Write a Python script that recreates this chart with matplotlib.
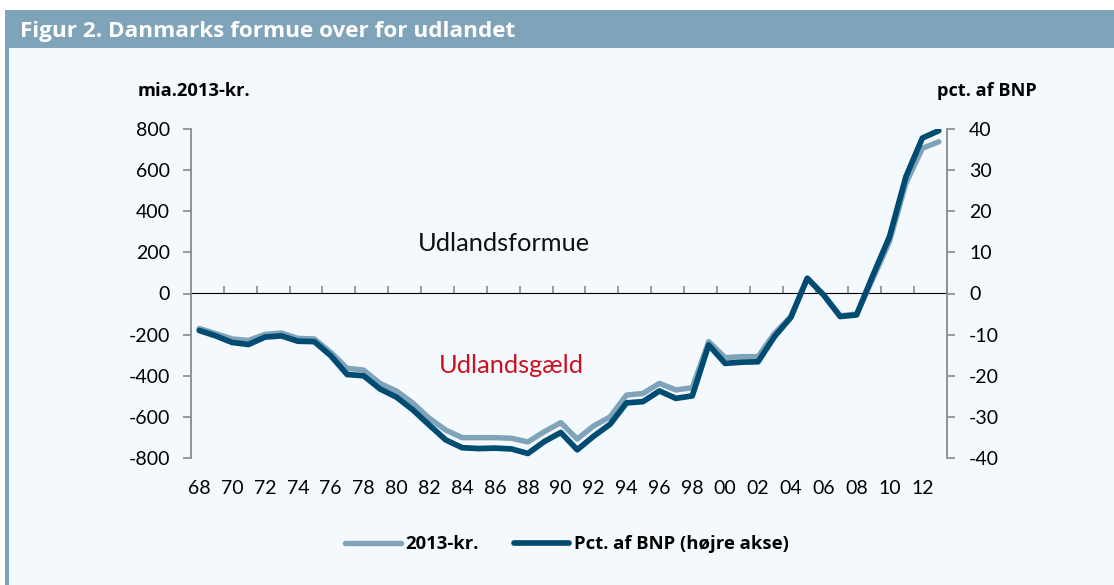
import matplotlib
matplotlib.use("Agg")
import matplotlib.pyplot as plt
from matplotlib.patches import Rectangle
import numpy as np

plt.rcParams['axes.unicode_minus'] = False
plt.rcParams['font.family'] = ['Lato', 'DejaVu Sans']

years = list(range(1968, 2014))
kr_2013 = [-170, -195, -221, -228, -199, -192, -218, -221, -286, -364,
           -372, -437, -474, -533, -607, -664, -701, -701, -701, -704,
           -722, -672, -628, -708, -644, -600, -494, -486, -437, -469,
           -458, -234, -312, -307, -307, -194, -113, 74, -7, -108,
           -100, 74, 252, 536, 706, 738]
pct_bnp = [-9.0, -10.3, -11.9, -12.4, -10.6, -10.3, -11.6, -11.7, -15.1, -19.7,
           -20.0, -23.2, -25.2, -28.3, -32.0, -35.6, -37.5, -37.7, -37.6, -37.8,
           -38.9, -36.0, -33.8, -38.0, -34.7, -31.8, -26.6, -26.3, -23.7, -25.5,
           -24.9, -12.5, -17.0, -16.7, -16.6, -10.5, -5.8, 3.7, -0.4, -5.6,
           -5.2, 4.5, 13.8, 28.4, 37.8, 39.6]
left_ticks = [-800, -600, -400, -200, 0, 200, 400, 600, 800]
right_ticks = [-40, -30, -20, -10, 0, 10, 20, 30, 40]
x_labels = [f"{y % 100:02d}" for y in years]

title = "Figur 2. Danmarks formue over for udlandet"
series_names = ["2013-kr.", "Pct. af BNP (højre akse)"]

LIGHT = "#7fa3b8"
DARK = "#004b71"
GRAY = "#8a8a8a"
BG = "#f4f9fd"

W, H = 1114, 585
fig = plt.figure(figsize=(W / 100, H / 100), dpi=100, facecolor="white")

# background panels
fig.patches.append(Rectangle((8.7 / W, 0), 1, 1 - 48 / H, transform=fig.transFigure,
                             facecolor=BG, edgecolor="none", zorder=-5))
fig.patches.append(Rectangle((5 / W, 1 - 48 / H), 1, 38 / H, transform=fig.transFigure,
                             facecolor=LIGHT, edgecolor="none", zorder=-5))
fig.patches.append(Rectangle((5 / W, 0), 3.7 / W, 1 - 48 / H, transform=fig.transFigure,
                             facecolor=LIGHT, edgecolor="none", zorder=-5))
fig.text(20 / W, 1 - 31 / H, title, color="white", fontsize=16.2, fontweight="bold",
         family=["Open Sans", "DejaVu Sans"], va="center", ha="left")

l, r, t, b = 191, 947, 129, 458
ax = fig.add_axes([l / W, 1 - b / H, (r - l) / W, (b - t) / H])
ax.set_facecolor("none")
x = np.arange(len(years))
ax.plot(x, kr_2013, color=LIGHT, lw=3.9, solid_capstyle="round", solid_joinstyle="round",
        label=series_names[0], zorder=3)
ax.set_xlim(-0.5, len(years) - 0.5)
ax.set_ylim(-800, 800)
ax.set_yticks(left_ticks)
ax.set_yticklabels([str(v) for v in left_ticks])
ax.set_xticks(x[::2])
ax.set_xticklabels(x_labels[::2])
ax.tick_params(axis="x", length=0, pad=16, labelsize=14)
ax.tick_params(axis="y", direction="out", length=6, width=1.2, color=GRAY, pad=9, labelsize=14)
for s in ["top", "right", "bottom"]:
    ax.spines[s].set_visible(False)
ax.spines["left"].set_color(GRAY)
ax.spines["left"].set_linewidth(1.3)

# zero line with tick marks
sec = ax.secondary_xaxis(0.5)
sec.set_xticks(np.arange(1.5, len(years), 2))
sec.set_xticklabels([])
sec.tick_params(axis="x", direction="out", length=5, width=1.2, color=GRAY)
sec.spines["bottom"].set_color(GRAY)
sec.spines["bottom"].set_linewidth(1.4)

ax2 = ax.twinx()
ax2.plot(x, pct_bnp, color=DARK, lw=4.1, solid_capstyle="round", solid_joinstyle="round",
         label=series_names[1], zorder=4)
ax2.set_ylim(-40, 40)
ax2.set_yticks(right_ticks)
ax2.set_yticklabels([str(v) for v in right_ticks])
ax2.tick_params(axis="y", direction="out", length=6, width=1.2, color=GRAY, pad=10, labelsize=14)
for s in ["top", "left", "bottom"]:
    ax2.spines[s].set_visible(False)
ax2.spines["right"].set_color(GRAY)
ax2.spines["right"].set_linewidth(1.3)

fig.text(194 / W, 1 - 91 / H, "mia.2013-kr.", fontsize=13.2, fontweight="bold",
         ha="center", va="center", family=["Open Sans", "DejaVu Sans"])
fig.text(987 / W, 1 - 91 / H, "pct. af BNP", fontsize=13.1, fontweight="bold",
         ha="center", va="center", family=["Open Sans", "DejaVu Sans"])

ax.text(18.55, 245, "Udlandsformue", fontsize=18.3, color="#111111", ha="center", va="center")
ax.text(18.98, -350, "Udlandsgæld", fontsize=18.3, color="#cc1122", ha="center", va="center")

h1, l1 = ax.get_legend_handles_labels()
h2, l2 = ax2.get_legend_handles_labels()
leg = fig.legend(h1 + h2, l1 + l2, loc="center", bbox_to_anchor=(567 / W, 1 - 544 / H),
                 ncol=2, frameon=False, handlelength=3.0, handletextpad=0.25,
                 columnspacing=1.9, prop={"family": ["Open Sans", "DejaVu Sans"],
                                          "weight": "bold", "size": 13.3})

fig.savefig("out.png", dpi=100)
